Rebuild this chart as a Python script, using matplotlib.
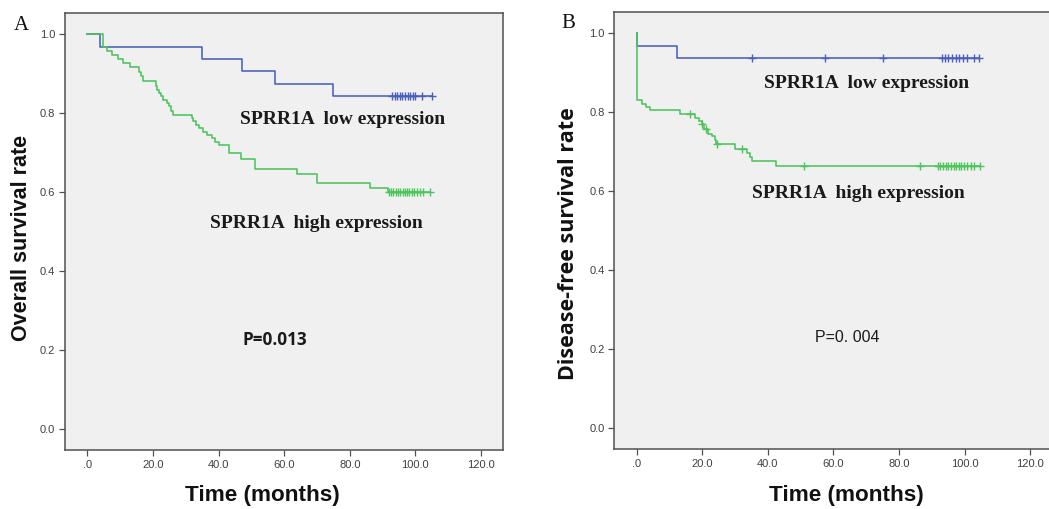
import numpy as np
import matplotlib
matplotlib.use("Agg")
import matplotlib.pyplot as plt

# ---------------- data ----------------
# Panel A: overall survival
a_low_times = [0, 3.9, 34.9, 47.0, 57.1, 75.0]
a_low_surv = [1.0, 0.969, 0.938, 0.906, 0.875, 0.844]
a_low_censor = [93.0, 93.8, 94.5, 95.3, 96.0, 96.8, 97.6, 98.4, 99.2, 100.0, 102.1, 105.2]

a_high_times = [0, 4.9, 5.9, 7.6, 9.5, 11.0, 13.0, 15.8, 16.4, 17.1, 20.8, 21.3, 21.7,
                22.5, 23.2, 24.2, 24.9, 25.5, 26.2, 31.8, 32.3, 33.1, 34.1, 35.4, 36.6,
                37.9, 39.0, 40.2, 43.3, 46.8, 51.1, 63.8, 69.9, 86.2, 91.8]
a_high_surv = [1.0, 0.968, 0.958, 0.947, 0.937, 0.927, 0.916, 0.905, 0.893, 0.881, 0.870,
               0.860, 0.851, 0.843, 0.834, 0.826, 0.817, 0.806, 0.795, 0.787, 0.779, 0.770,
               0.762, 0.753, 0.745, 0.736, 0.728, 0.719, 0.698, 0.683, 0.658, 0.646, 0.622,
               0.610, 0.599]
a_high_censor = [91.9, 92.6, 93.3, 94.0, 94.7, 95.4, 96.1, 96.8, 97.5, 98.2, 98.9, 99.6,
                 100.4, 101.3, 102.4, 104.5]

# Panel B: disease-free survival
b_low_times = [0, 0.05, 12.3]
b_low_surv = [1.0, 0.969, 0.937]
b_low_censor = [35.2, 57.3, 75.2, 93.0, 94.0, 95.0, 96.0, 97.2, 98.3, 99.5, 100.8, 102.7, 104.5]

b_high_times = [0, 0.1, 1.5, 3.0, 4.2, 13.1, 17.7, 18.9, 19.9, 20.6, 21.9, 22.9, 24.0, 24.3,
                30.1, 33.5, 34.5, 35.2, 42.4]
b_high_surv = [1.0, 0.831, 0.822, 0.813, 0.805, 0.795, 0.785, 0.779, 0.771, 0.758, 0.746,
               0.740, 0.729, 0.719, 0.708, 0.696, 0.687, 0.677, 0.665]
b_high_censor = [16.2, 20.0, 21.2, 24.4, 32.2, 51.1, 86.3, 91.8, 92.6, 93.4, 94.2, 95.0,
                 95.8, 96.6, 97.4, 98.2, 99.0, 99.8, 100.7, 101.8, 102.9, 104.6]

x_ticks = [0, 20, 40, 60, 80, 100, 120]
x_tick_labels = [".0", "20.0", "40.0", "60.0", "80.0", "100.0", "120.0"]
y_ticks = [0.0, 0.2, 0.4, 0.6, 0.8, 1.0]
y_tick_labels = ["0.0", "0.2", "0.4", "0.6", "0.8", "1.0"]

BLUE = "#4860bc"
GREEN = "#4cc45c"
BG = "#f0f0f0"
FRAME = "#505050"

W, H = 1049, 509
fig = plt.figure(figsize=(W / 100, H / 100), dpi=100)
fig.patch.set_facecolor("white")


def km(ax, times, surv, censor, color):
    t = np.asarray(times, float)
    s = np.asarray(surv, float)
    c = np.asarray(censor, float)
    end = max(c.max(), t.max())
    tt = np.append(t, end)
    ss = np.append(s, s[-1])
    ax.step(tt, ss, where="post", color=color, lw=1.15, zorder=3)
    idx = np.searchsorted(t, c, side="right") - 1
    ax.plot(c, s[idx], linestyle="none", marker="+", color=color, ms=6.0, mew=1.0, zorder=4)


def style(ax):
    ax.set_facecolor(BG)
    ax.set_xlim(-6.8, 126.7)
    ax.set_ylim(-0.054, 1.054)
    ax.set_xticks(x_ticks)
    ax.set_xticklabels(x_tick_labels)
    ax.set_yticks(y_ticks)
    ax.set_yticklabels(y_tick_labels)
    for sp in ax.spines.values():
        sp.set_color(FRAME)
        sp.set_linewidth(1.1)
    ax.tick_params(direction="out", length=4, width=0.9, color=FRAME,
                   labelsize=8, labelcolor="#404040", pad=3)
    for lab in ax.get_xticklabels() + ax.get_yticklabels():
        lab.set_family("Liberation Sans")


# ---------------- Panel A ----------------
axA = fig.add_axes([65 / W, (H - 450) / H, 438 / W, 437 / H])
style(axA)
km(axA, a_low_times, a_low_surv, a_low_censor, BLUE)
km(axA, a_high_times, a_high_surv, a_high_censor, GREEN)
axA.text(240 / W, 1 - 120 / H, "SPRR1A  low expression", transform=fig.transFigure,
         family="Liberation Serif", weight="bold", fontsize=14.0, va="center", ha="left",
         color="#1a1a1a")
axA.text(210 / W, 1 - 223 / H, "SPRR1A  high expression", transform=fig.transFigure,
         family="Liberation Serif", weight="bold", fontsize=14.0, va="center", ha="left",
         color="#1a1a1a")
axA.text(275 / W, 1 - 340 / H, "P=0.013", transform=fig.transFigure,
         family="Open Sans", weight="bold", fontsize=12.3, va="center", ha="center",
         color="#1a1a1a")
fig.text(22 / W, 1 - 238 / H, "Overall survival rate", rotation=90, family="Liberation Sans",
         weight="bold", fontsize=15.5, va="center", ha="center", color="#111111")
fig.text(262 / W, 1 - 496 / H, "Time (months)", family="Liberation Sans", weight="bold",
         fontsize=16.2, va="center", ha="center", color="#111111")
fig.text(21 / W, 1 - 25 / H, "A", family="Liberation Serif", fontsize=15, va="center",
         ha="center", color="#111111")

# ---------------- Panel B ----------------
axB = fig.add_axes([614.3 / W, (H - 449.3) / H, 438 / W, 437.3 / H])
style(axB)
km(axB, b_low_times, b_low_surv, b_low_censor, BLUE)
km(axB, b_high_times, b_high_surv, b_high_censor, GREEN)
axB.text(764 / W, 1 - 83 / H, "SPRR1A  low expression", transform=fig.transFigure,
         family="Liberation Serif", weight="bold", fontsize=14.0, va="center", ha="left",
         color="#1a1a1a")
axB.text(752 / W, 1 - 193 / H, "SPRR1A  high expression", transform=fig.transFigure,
         family="Liberation Serif", weight="bold", fontsize=14.0, va="center", ha="left",
         color="#1a1a1a")
axB.text(847 / W, 1 - 337 / H, "P=0. 004", transform=fig.transFigure,
         family="Liberation Sans", fontsize=11.5, va="center", ha="center", color="#1a1a1a")
fig.text(568 / W, 1 - 244 / H, "Disease-free survival rate", rotation=90, family="Open Sans",
         weight="bold", fontsize=15.5, va="center", ha="center", color="#111111")
fig.text(846 / W, 1 - 496 / H, "Time (months)", family="Liberation Sans", weight="bold",
         fontsize=16.2, va="center", ha="center", color="#111111")
fig.text(568 / W, 1 - 23 / H, "B", family="Liberation Serif", fontsize=15, va="center",
         ha="center", color="#111111")

fig.savefig("out.png", dpi=100, facecolor="white")
